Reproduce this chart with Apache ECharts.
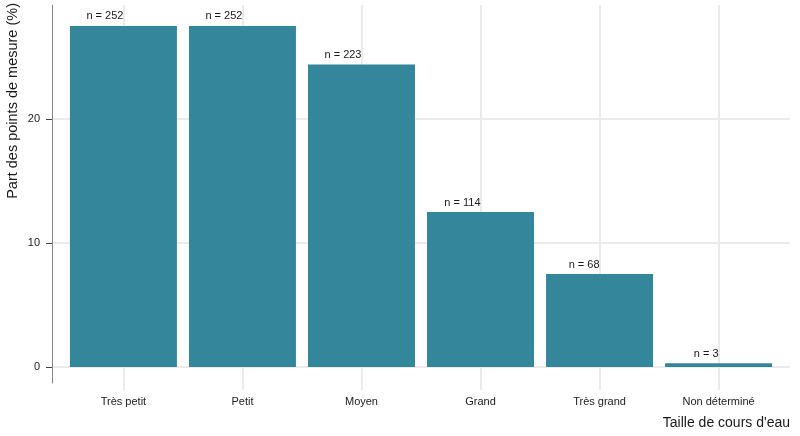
<!DOCTYPE html>
<html><head><meta charset="utf-8">
<script src="https://cdn.jsdelivr.net/npm/echarts@6/dist/echarts.min.js"></script>
<style>html,body{margin:0;padding:0;background:#fff}#c{width:800px;height:436px}</style>
</head><body><div id="c"></div>
<script>
const categories = ['Très petit', 'Petit', 'Moyen', 'Grand', 'Très grand', 'Non déterminé'];
const shares = [27.5, 27.5, 24.4, 12.5, 7.5, 0.3];
const counts = [252, 252, 223, 114, 68, 3];
const yTicks = [0, 10, 20];
const xTicks = [1, 2, 3, 4, 5, 6];
const xTitle = "Taille de cours d'eau";
const yTitle = 'Part des points de mesure (%)';

const font = 'Liberation Sans, Arial, sans-serif';
const gridColor = '#ebebeb';
const chart = echarts.init(document.getElementById('c'), null, {renderer: 'canvas'});
chart.setOption({
  animation: false,
  textStyle: {fontFamily: font},
  grid: {left: 52, right: 10, top: 5, bottom: 53, containLabel: false},
  xAxis: {
    type: 'value', min: 0.4, max: 6.6,
    axisLine: {show: false, onZero: false},
    axisTick: {show: true, customValues: xTicks, length: 7, lineStyle: {color: gridColor, width: 2}},
    axisLabel: {customValues: xTicks, formatter: v => categories[Math.round(v) - 1], margin: 13,
      fontSize: 11, color: '#222', fontFamily: font},
    splitLine: {show: true, lineStyle: {color: gridColor, width: 2}}
  },
  yAxis: {
    type: 'value', min: -1.29, max: 29.19,
    axisLine: {show: true, onZero: false, lineStyle: {color: '#888', width: 1}},
    axisTick: {show: true, customValues: yTicks, length: 6, lineStyle: {color: '#444', width: 1}},
    axisLabel: {customValues: yTicks, margin: 12, fontSize: 11, color: '#222', fontFamily: font},
    splitLine: {show: true, lineStyle: {color: gridColor, width: 2}}
  },
  series: [{
    type: 'bar',
    data: categories.map((c, i) => [xTicks[i], shares[i]]),
    barWidth: 107,
    itemStyle: {color: '#34869a'},
    label: {
      show: true, position: 'top', align: 'right', distance: 4,
      fontSize: 11, color: '#1a1a1a', fontFamily: font,
      formatter: p => 'n = ' + counts[p.dataIndex]
    }
  }],
  graphic: [
    {type: 'text', right: 10, top: 416,
      style: {text: xTitle, font: '14px ' + font, fill: '#1a1a1a'}},
    {type: 'text', x: 5, y: 3, rotation: Math.PI / 2, originX: 0, originY: 0,
      style: {text: yTitle, font: '14.5px ' + font, fill: '#1a1a1a', align: 'right', verticalAlign: 'top'}}
  ]
});
</script></body></html>
